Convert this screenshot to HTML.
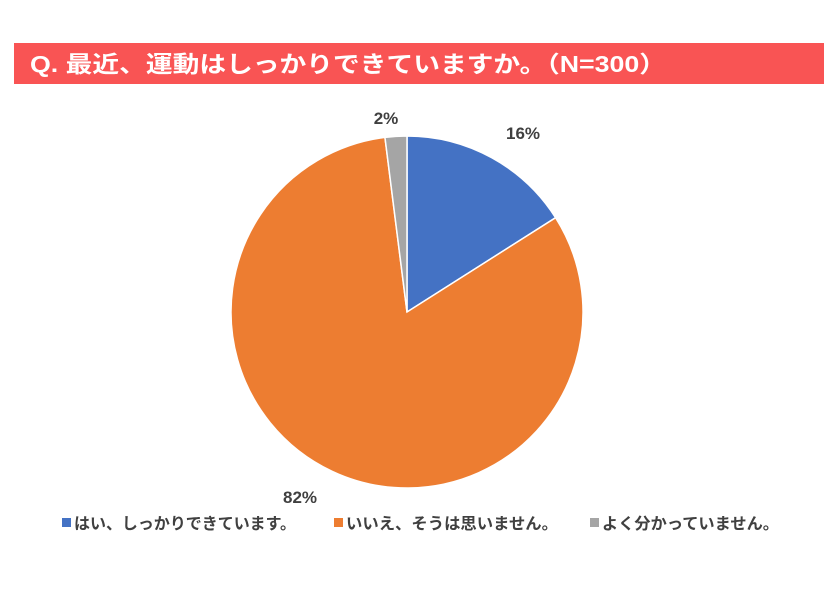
<!DOCTYPE html>
<html><head><meta charset="utf-8"><style>
body{margin:0;width:840px;height:594px;background:#fff;overflow:hidden;font-family:"Liberation Sans","Noto Sans CJK JP",sans-serif;}
#title{position:absolute;left:14px;top:43px;width:810px;height:41px;background:#f95454;}
svg{position:absolute;left:0;top:0;}
</style></head><body>
<div id="title"></div>
<svg id="chart" width="840" height="594">
<text x="30" y="72" font-size="23" font-weight="bold" fill="#fff" textLength="636" lengthAdjust="spacingAndGlyphs">Q.&#160;最近、運動はしっかりできていますか。（N=300）</text>
</svg>
<script>
const categories=["はい、しっかりできています。","いいえ、そうは思いません。","よく分かっていません。"];
const values=[16,82,2];
const labels=["16%","82%","2%"];
const colors=["#4472c4","#ed7d31","#a5a5a5"];
const svg=document.getElementById('chart');
const NS="http://www.w3.org/2000/svg";
const cx=407,cy=312,r=176;
const total=values.reduce((a,b)=>a+b,0);
let ang=0;
const labelPos=[[523,133],[300,497],[386,118]];
values.forEach((v,i)=>{
  const a0=ang, a1=ang+v/total*2*Math.PI; ang=a1;
  const x0=cx+r*Math.sin(a0),y0=cy-r*Math.cos(a0),x1=cx+r*Math.sin(a1),y1=cy-r*Math.cos(a1);
  const p=document.createElementNS(NS,'path');
  p.setAttribute('d',`M${cx},${cy}L${x0},${y0}A${r},${r} 0 ${a1-a0>Math.PI?1:0} 1 ${x1},${y1}Z`);
  p.setAttribute('fill',colors[i]);p.setAttribute('stroke','#fff');p.setAttribute('stroke-width','1.5');
  
  
  svg.appendChild(p);
  const mid=(a0+a1)/2;
  let lx=cx+(r+30)*Math.sin(mid), ly=cy-(r+30)*Math.cos(mid);
  if(labelPos[i]){lx=labelPos[i][0];ly=labelPos[i][1];}
  const t=document.createElementNS(NS,'text');
  t.setAttribute('x',lx);t.setAttribute('y',ly+6);t.setAttribute('text-anchor','middle');
  t.setAttribute('font-size','17');t.setAttribute('font-weight','bold');t.setAttribute('fill','#404040');
  t.textContent=labels[i];
  
  
  svg.appendChild(t);
});
const lx=[62,334,590];
const lw=[222,212,177];
categories.forEach((c,i)=>{
  const g=document.createElementNS(NS,'g');
  
  
  const s=document.createElementNS(NS,'rect');
  s.setAttribute('x',lx[i]);s.setAttribute('y',518);s.setAttribute('width',9);s.setAttribute('height',9);s.setAttribute('fill',colors[i]);
  g.appendChild(s);
  const t=document.createElementNS(NS,'text');
  t.setAttribute('x',lx[i]+12);t.setAttribute('y',529);t.setAttribute('font-size','16');t.setAttribute('font-weight','bold');t.setAttribute('fill','#404040');
  t.setAttribute('textLength',lw[i]);t.setAttribute('lengthAdjust','spacingAndGlyphs');
  t.textContent=c;
  g.appendChild(t);
  svg.appendChild(g);
});
</script>
</body></html>
